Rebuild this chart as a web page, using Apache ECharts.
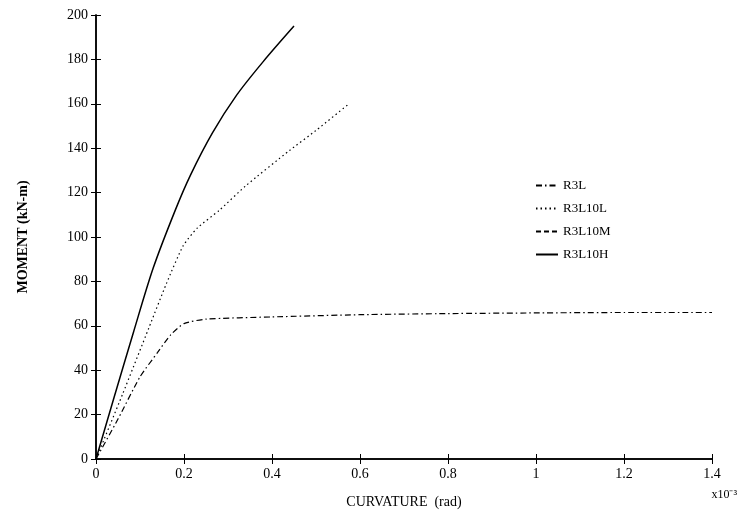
<!DOCTYPE html>
<html>
<head>
<meta charset="utf-8">
<script src="https://cdn.jsdelivr.net/npm/echarts@6/dist/echarts.min.js"></script>
<style>
html, body { margin: 0; padding: 0; background: #fff; }
#container { width: 743px; height: 524px; }
</style>
</head>
<body>
<div id="container"></div>
<script>
var dom = document.getElementById('container');
var myChart = echarts.init(dom);

// curvature (x10^-3 rad), moment (kN-m)
var r3l = [[0, 0], [0.05, 18], [0.1, 37], [0.14, 48], [0.17, 56], [0.2, 61], [0.25, 63], [0.4, 64],
    [0.6, 65], [0.8, 65.5], [1.0, 65.8], [1.2, 66], [1.4, 66]];
var r3l10l = [[0, 0], [0.06, 29], [0.12, 59], [0.16, 79], [0.198, 96], [0.23, 104], [0.28, 112],
    [0.34, 123], [0.44, 139], [0.5, 148], [0.575, 160]];
var r3l10m = [];
var r3l10h = [[0, 0], [0.04, 27], [0.085, 57], [0.13, 86], [0.18, 112], [0.215, 128], [0.265, 147],
    [0.32, 164], [0.38, 179], [0.45, 195]];

var xTicks = ['0', '0.2', '0.4', '0.6', '0.8', '1', '1.2', '1.4'];

var font = 'Liberation Serif';

var option = {
    animation: false,
    grid: { left: 96, right: 31, top: 15, bottom: 65 },
    legend: {
        orient: 'vertical',
        left: 530,
        top: 174,
        itemWidth: 22,
        itemHeight: 10,
        itemGap: 10,
        itemStyle: { opacity: 0 },
        textStyle: { fontFamily: font, fontSize: 13, color: '#000' },
        data: ['R3L', 'R3L10L', 'R3L10M', 'R3L10H']
    },
    xAxis: [{
        type: 'value', min: 0, max: 1.4, interval: 0.2,
        name: 'CURVATURE  (rad)', nameLocation: 'middle', nameGap: 36,
        nameTextStyle: { fontFamily: font, fontSize: 14, color: '#000' },
        axisLine: { lineStyle: { color: '#000', width: 1.5 } },
        axisTick: { inside: true, length: 5, lineStyle: { color: '#000' } },
        axisLabel: {
            fontFamily: font, fontSize: 14, color: '#000', margin: 8,
            formatter: function (v) { return xTicks[Math.round(v / 0.2)]; }
        },
        splitLine: { show: false }
    }, {
        type: 'value', min: 0, max: 1.4, interval: 0.2, position: 'top',
        axisLine: { show: true, lineStyle: { color: '#000', width: 1.5 } },
        axisTick: { inside: true, length: 5, lineStyle: { color: '#000' } },
        axisLabel: { show: false },
        splitLine: { show: false }
    }],
    yAxis: [{
        type: 'value', min: 0, max: 200, interval: 20,
        name: 'MOMENT (kN-m)', nameLocation: 'middle', nameGap: 66,
        nameTextStyle: { fontFamily: font, fontSize: 14, fontWeight: 'bold', color: '#000' },
        axisLine: { show: true, lineStyle: { color: '#000', width: 1.5 } },
        axisTick: { show: true, inside: true, length: 5, lineStyle: { color: '#000' } },
        axisLabel: { fontFamily: font, fontSize: 14, color: '#000', margin: 8 },
        splitLine: { show: false }
    }, {
        type: 'value', min: 0, max: 200, interval: 20, position: 'right',
        axisLine: { show: true, lineStyle: { color: '#000', width: 1.5 } },
        axisTick: { show: true, inside: true, length: 5, lineStyle: { color: '#000' } },
        axisLabel: { show: false },
        splitLine: { show: false }
    }],
    graphic: [{
        type: 'text', right: 6, top: 489,
        style: { text: 'x10⁻³', fontFamily: font, fontSize: 12, fill: '#000' }
    }],
    series: [{
        name: 'R3L', type: 'line', data: r3l, symbol: 'none', smooth: 0.2,
        lineStyle: { color: '#000', width: 1.2, type: [6, 3, 1.5, 3] },
        itemStyle: { color: '#000' }
    }, {
        name: 'R3L10L', type: 'line', data: r3l10l, symbol: 'none', smooth: 0.2,
        lineStyle: { color: '#000', width: 1.2, type: [1.5, 3] },
        itemStyle: { color: '#000' }
    }, {
        name: 'R3L10M', type: 'line', data: r3l10m, symbol: 'none',
        lineStyle: { color: '#000', width: 1.2, type: [5, 3] },
        itemStyle: { color: '#000' }
    }, {
        name: 'R3L10H', type: 'line', data: r3l10h, symbol: 'none', smooth: 0.3,
        lineStyle: { color: '#000', width: 1.5, type: 'solid' },
        itemStyle: { color: '#000' }
    }]
};

myChart.setOption(option);
</script>
</body>
</html>
